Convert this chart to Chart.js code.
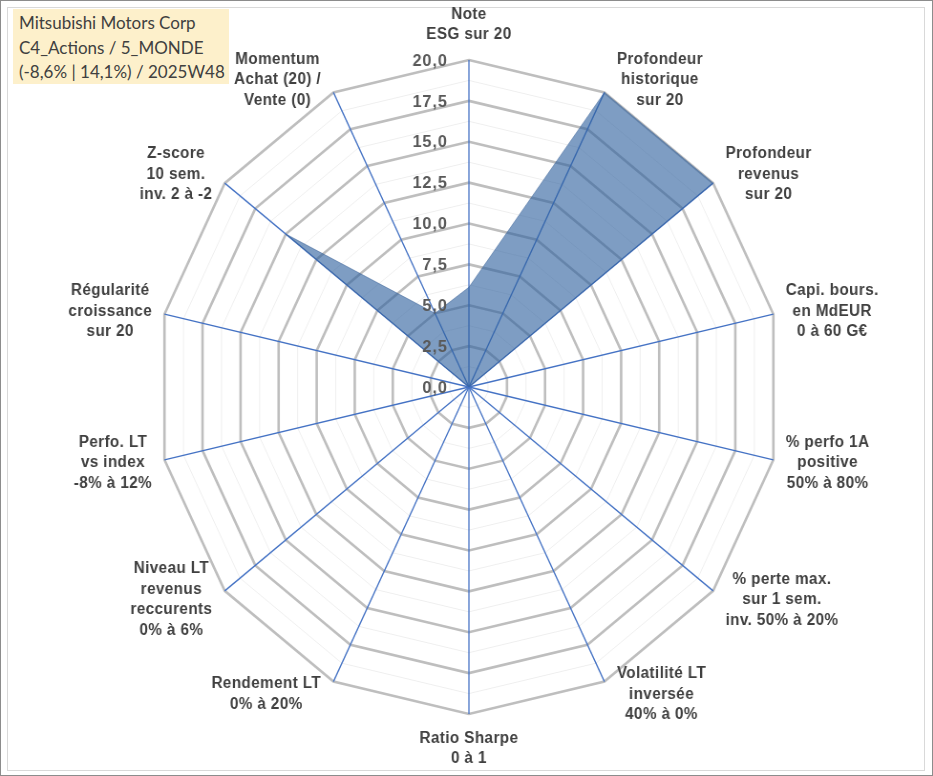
<!DOCTYPE html>
<html>
<head>
<meta charset="utf-8">
<script src="https://cdn.jsdelivr.net/npm/chart.js@4"></script>
<style>
  body { margin: 0; width: 933px; height: 776px; overflow: hidden; background: #fff; }
  #outer { position: absolute; left: 0; top: 0; width: 931px; height: 774px; border: 1px solid #8c8c8c; }
  #inner { position: absolute; left: 7px; top: 7px; width: 916px; height: 762px; border: 1px solid #d9d9d9; }
  #wrap { position: absolute; left: 0; top: 0; width: 977px; height: 776px; transform: scaleX(0.955); transform-origin: 0 0; }
  #title { position: absolute; left: 13px; top: 9px; width: 210px; height: 73px; padding: 2px 0 0 6px;
           background: #fdf0cb; color: #404040; font: 17px Lato, "Liberation Sans", sans-serif; line-height: 24.5px; }
</style>
</head>
<body>
<div id="outer"></div>
<div id="inner"></div>
<div id="wrap"><canvas id="radar"></canvas></div>
<div id="title">Mitsubishi Motors Corp<br>C4_Actions / 5_MONDE<br>(-8,6% | 14,1%) / 2025W48</div>
<script>
const axes = [
  ['Note', 'ESG sur 20'],
  ['Profondeur', 'historique', 'sur 20'],
  ['Profondeur', 'revenus', 'sur 20'],
  ['Capi. bours.', 'en MdEUR', '0 à 60 G€'],
  ['% perfo 1A', 'positive', '50% à 80%'],
  ['% perte max.', 'sur 1 sem.', 'inv. 50% à 20%'],
  ['Volatilité LT', 'inversée', '40% à 0%'],
  ['Ratio Sharpe', '0 à 1'],
  ['Rendement LT', '0% à 20%'],
  ['Niveau LT', 'revenus', 'reccurents', '0% à 6%'],
  ['Perfo. LT', 'vs index', '-8% à 12%'],
  ['Régularité', 'croissance', 'sur 20'],
  ['Z-score', '10 sem.', 'inv. 2 à -2'],
  ['Momentum', 'Achat (20) /', 'Vente (0)']
];
const scores = [6.1, 20, 20, 0, 0, 0, 0, 0, 0, 0, 0, 0, 15.0, 5.0];
const tickValues = [0, 2.5, 5, 7.5, 10, 12.5, 15, 17.5, 20];

const fmt = v => v.toFixed(1).replace('.', ',');

// tick labels to the left of the top spoke, like Excel
const tickLabelPlugin = {
  id: 'tickLabels',
  afterDraw(chart) {
    const scale = chart.scales.r;
    const ctx = chart.ctx;
    ctx.save();
    ctx.font = 'bold 17px "Liberation Sans", Arial, sans-serif';
    ctx.letterSpacing = '1px';
    ctx.fillStyle = '#595959';
    ctx.textAlign = 'right';
    ctx.textBaseline = 'middle';
    tickValues.forEach(v => {
      const p = scale.getPointPositionForValue(0, v);
      ctx.fillText(fmt(v), p.x - 22, p.y + 1);
    });
    ctx.restore();
  }
};

// axis names placed next to the end of each spoke
const axisLabelPlugin = {
  id: 'axisLabels',
  afterDraw(chart) {
    const scale = chart.scales.r;
    const ctx = chart.ctx;
    const lh = 20.5;
    ctx.save();
    ctx.font = 'bold 16px "Liberation Sans", Arial, sans-serif';
    ctx.letterSpacing = '0.4px';
    ctx.fillStyle = '#404040';
    ctx.textAlign = 'center';
    ctx.textBaseline = 'middle';
    axes.forEach((lines, i) => {
      const a = scale.getIndexAngle(i);
      const sx = Math.sin(a), sy = -Math.cos(a);
      const p = scale.getPointPosition(i, scale.drawingArea);
      const w = Math.max(...lines.map(t => ctx.measureText(t).width));
      const h = lines.length * lh;
      let cx, top;
      if (Math.abs(sx) < 0.1) {
        cx = p.x;
        top = sy < 0 ? p.y - 15 - h : p.y + 14;
      } else {
        cx = sx > 0 ? p.x + 13 + w / 2 : p.x - 13 - w / 2;
        top = p.y + sy * 14 - h / 2;
      }
      lines.forEach((t, j) => ctx.fillText(t, cx, top + lh * (j + 0.5)));
    });
    ctx.restore();
  }
};

new Chart(document.getElementById('radar'), {
  type: 'radar',
  data: {
    labels: axes,
    datasets: [{
      data: scores,
      fill: true,
      backgroundColor: 'rgba(46, 97, 158, 0.62)',
      borderColor: 'rgba(55, 95, 150, 0.5)',
      borderWidth: 1,
      pointRadius: 0
    }]
  },
  options: {
    responsive: true,
    maintainAspectRatio: false,
    animation: false,
    layout: { padding: { top: 60, bottom: 62, left: 6, right: 0 } },
    plugins: { legend: { display: false }, tooltip: { enabled: false } },
    scales: {
      r: {
        min: 0,
        max: 20,
        ticks: { stepSize: 1.25, display: false },
        pointLabels: { display: false },
        angleLines: { color: '#4472c4', lineWidth: 1.3 },
        grid: {
          color: c => (c.tick.value % 2.5 === 0 ? '#bebebe' : '#efefef'),
          lineWidth: c => (c.tick.value % 2.5 === 0 ? 2.6 : 1)
        }
      }
    }
  },
  plugins: [tickLabelPlugin, axisLabelPlugin]
});
</script>
</body>
</html>
